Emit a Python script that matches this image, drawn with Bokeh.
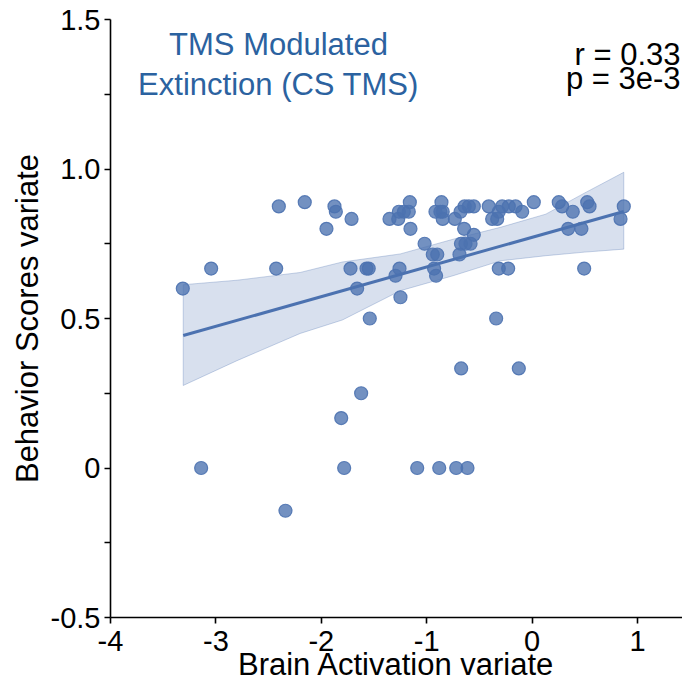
from bokeh.plotting import figure
from bokeh.models import FixedTicker, Label, Range1d
from bokeh.embed import file_html
from bokeh.resources import INLINE

# ---- data ----
brain = [-3.314, -3.045, -3.14, -2.428, -2.403, -2.34, -2.157, -1.951, -1.875, -1.862,
         -1.811, -1.783, -1.723, -1.713, -1.66, -1.622, -1.571, -1.55, -1.54, -1.353,
         -1.296, -1.27, -1.264, -1.258, -1.249, -1.217, -1.17, -1.16, -1.154, -1.09,
         -1.02, -0.942, -0.9, -0.93, -0.911, -0.917, -0.87, -0.848, -0.86, -0.848,
         -0.881, -0.733, -0.72, -0.679, -0.689, -0.673, -0.645, -0.675, -0.632, -0.584,
         -0.64, -0.6, -0.553, -0.613, -0.553, -0.411, -0.379, -0.331, -0.341, -0.316,
         -0.284, -0.316, -0.227, -0.221, -0.157, -0.126, -0.094, 0.016, 0.253, 0.285,
         0.342, 0.468, 0.386, 0.494, 0.523, 0.545, 0.839, 0.87]
behavior = [0.6, 0.667, 0.0, 0.667, 0.875, -0.143, 0.889, 0.8, 0.875, 0.857,
            0.167, 0.0, 0.667, 0.833, 0.6, 0.25, 0.667, 0.667, 0.5, 0.833,
            0.643, 0.833, 0.857, 0.667, 0.571, 0.857, 0.857, 0.889, 0.8, 0.0,
            0.75, 0.714, 0.714, 0.667, 0.643, 0.857, 0.857, 0.857, 0.889, 0.833,
            0.0, 0.833, 0.0, 0.857, 0.714, 0.333, 0.8, 0.75, 0.75, 0.75,
            0.875, 0.875, 0.875, 0.0, 0.78, 0.875, 0.833, 0.833, 0.5, 0.857,
            0.875, 0.667, 0.667, 0.875, 0.875, 0.333, 0.857, 0.889, 0.889, 0.875,
            0.8, 0.8, 0.857, 0.667, 0.889, 0.875, 0.833, 0.875]

fit_x = [-3.31, 0.87]
fit_y = [0.443, 0.858]

band_x = [-3.31, -2.8, -2.2, -1.8, -1.25, -0.75, -0.3, 0.13, 0.5, 0.87]
band_hi = [0.613, 0.628, 0.654, 0.689, 0.716, 0.765, 0.805, 0.849, 0.92, 0.989]
band_lo = [0.276, 0.359, 0.45, 0.495, 0.593, 0.643, 0.693, 0.71, 0.722, 0.732]

x_ticks = [-4, -3, -2, -1, 0, 1]
x_tick_labels = ["-4", "-3", "-2", "-1", "0", "1"]
y_ticks = [-0.5, 0, 0.5, 1.0, 1.5]
y_minor = [-0.25, 0.25, 0.75, 1.25]
y_tick_labels = ["-0.5", "0", "0.5", "1.0", "1.5"]

x_title = "Brain Activation variate"
y_title = "Behavior Scores variate"
title_lines = ["TMS Modulated", "Extinction (CS TMS)"]
stat_lines = ["r = 0.33", "p = 3e-3"]

BLUE = "#4c72b0"
FONT = "Liberation Sans"

p = figure(width=682, height=684, output_backend="svg", toolbar_location=None,
           x_range=Range1d(-4, 1.427), y_range=Range1d(-0.5, 1.5),
           min_border_left=110, min_border_right=0, min_border_top=19,
           min_border_bottom=67)
p.outline_line_color = None
p.xgrid.visible = False
p.ygrid.visible = False
p.background_fill_color = "white"
p.border_fill_color = "white"

# CI band
poly_x = band_x + band_x[::-1]
poly_y = band_hi + band_lo[::-1]
p.patch(poly_x, poly_y, fill_color=BLUE, fill_alpha=0.22,
        line_color=BLUE, line_alpha=0.3, line_width=1)
p.line(fit_x, fit_y, line_color=BLUE, line_width=3)
p.scatter(brain, behavior, size=13, fill_color=BLUE, fill_alpha=0.78,
          line_color=BLUE, line_alpha=0.9, line_width=1.2)

# axes
for ax in (p.xaxis[0], p.yaxis[0]):
    ax.axis_line_color = "black"
    ax.axis_line_width = 1.6
    ax.major_tick_line_color = "black"
    ax.major_tick_line_width = 1.6
    ax.minor_tick_line_color = "black"
    ax.minor_tick_line_width = 1.6
    ax.major_tick_in = 0
    ax.major_tick_out = 6
    ax.minor_tick_in = 0
    ax.minor_tick_out = 6
    ax.major_label_text_font = FONT
    ax.major_label_text_font_size = "29px"
    ax.major_label_text_color = "black"
    ax.major_label_standoff = 4
    ax.axis_label_text_font = FONT
    ax.axis_label_text_font_size = "31px"
    ax.axis_label_text_font_style = "normal"
    ax.axis_label_text_color = "black"

p.xaxis[0].ticker = FixedTicker(ticks=x_ticks, minor_ticks=[])
p.xaxis[0].major_label_overrides = dict(zip(x_ticks, x_tick_labels))
p.xaxis[0].major_label_standoff = 7
p.xaxis[0].axis_label = x_title
p.xaxis[0].axis_label_standoff = -7
p.yaxis[0].ticker = FixedTicker(ticks=y_ticks, minor_ticks=y_minor)
p.yaxis[0].major_label_overrides = dict(zip(y_ticks, y_tick_labels))
p.yaxis[0].axis_label = y_title
p.yaxis[0].axis_label_standoff = 3

# annotations
for txt, yy in zip(title_lines, [1.415, 1.281]):
    p.add_layout(Label(x=-2.406, y=yy, text=txt, text_align="center",
                       text_baseline="alphabetic", text_font=FONT,
                       text_font_size="31px", text_color="#2b62a0"))
for txt, yy in zip(stat_lines, [1.382, 1.302]):
    p.add_layout(Label(x=1.408, y=yy, text=txt, text_align="right",
                       text_baseline="alphabetic", text_font=FONT,
                       text_font_size="31px", text_color="black"))

open("out.html", "w").write(file_html(p, INLINE))
